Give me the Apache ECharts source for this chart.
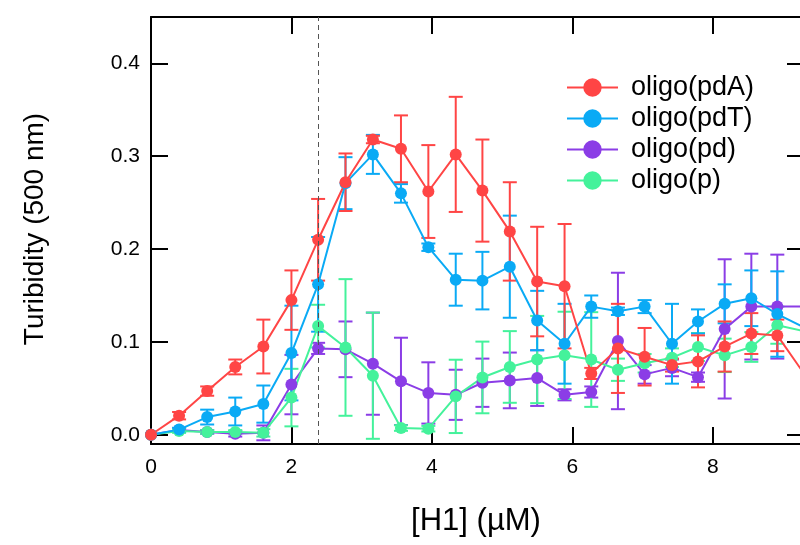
<!DOCTYPE html>
<html>
<head>
<meta charset="utf-8">
<script src="https://cdn.jsdelivr.net/npm/echarts@6/dist/echarts.min.js"></script>
<style>
html,body{margin:0;padding:0;background:#fff;}
#chart{width:800px;height:545px;}
</style>
</head>
<body>
<div id="chart"></div>
<script>
// H1 concentrations (µM)
var xValues = [0, 0.40, 0.80, 1.20, 1.60, 2.00, 2.38, 2.77, 3.16, 3.56, 3.95, 4.34, 4.72, 5.11, 5.50, 5.89, 6.27, 6.65, 7.03, 7.42, 7.79, 8.17, 8.55, 8.92, 9.40];

var pdA    = [0, 0.0205, 0.047, 0.073, 0.095, 0.145, 0.210, 0.272, 0.318, 0.308, 0.262, 0.302, 0.263, 0.219, 0.165, 0.160, 0.066, 0.093, 0.084, 0.075, 0.079, 0.095, 0.109, 0.107, 0.055];
var pdAErr = [0, 0.004, 0.005, 0.008, 0.029, 0.032, 0.044, 0.031, 0.004, 0.036, 0.050, 0.062, 0.055, 0.053, 0.059, 0.067, 0.006, 0.048, 0.031, 0.007, 0.028, 0.027, 0.022, 0.017, 0.010];

var pdT    = [0, 0.0055, 0.019, 0.025, 0.033, 0.088, 0.162, 0.271, 0.302, 0.260, 0.202, 0.167, 0.166, 0.181, 0.123, 0.098, 0.138, 0.133, 0.138, 0.098, 0.122, 0.141, 0.147, 0.130, 0.112];
var pdTErr = [0, 0.002, 0.008, 0.015, 0.020, 0.051, 0.051, 0.028, 0.021, 0.010, 0.004, 0.028, 0.031, 0.055, 0.032, 0.043, 0.012, 0.004, 0.007, 0.043, 0.013, 0.021, 0.030, 0.046, 0.010];

var pd     = [0, 0.005, 0.003, 0.001, 0.002, 0.054, 0.093, 0.092, 0.0765, 0.0575, 0.045, 0.043, 0.056, 0.0585, 0.061, 0.043, 0.046, 0.101, 0.065, 0.072, 0.062, 0.114, 0.138, 0.138, 0.138];
var pdErr  = [0, 0.002, 0.002, 0.003, 0.008, 0.032, 0.006, 0.030, 0.055, 0.047, 0.033, 0.027, 0.026, 0.030, 0.030, 0.006, 0.006, 0.0735, 0.010, 0.009, 0.005, 0.075, 0.057, 0.056, 0.050];

var p      = [0, 0.004, 0.003, 0.003, 0.002, 0.040, 0.117, 0.094, 0.0636, 0.0072, 0.0065, 0.0413, 0.0617, 0.073, 0.081, 0.0855, 0.081, 0.070, 0.077, 0.083, 0.0945, 0.0855, 0.0945, 0.118, 0.110];
var pErr   = [0, 0.002, 0.002, 0.002, 0.004, 0.031, 0.023, 0.0736, 0.068, 0.003, 0.003, 0.0395, 0.0386, 0.0386, 0.047, 0.047, 0.051, 0.012, 0.010, 0.010, 0.015, 0.018, 0.016, 0.020, 0.010];

var seriesNames = ['oligo(pdA)', 'oligo(pdT)', 'oligo(pd)', 'oligo(p)'];
var xTickValues = [0, 2, 4, 6, 8];
var yTickValues = [0.0, 0.1, 0.2, 0.3, 0.4];
var markerX = 2.38;

var colors = {
  'oligo(pdA)': '#ff4545',
  'oligo(pdT)': '#0aaaf5',
  'oligo(pd)':  '#8b3de6',
  'oligo(p)':   '#44f29b'
};

var FONT = '"Liberation Sans", Arial, Helvetica, sans-serif';

function pairs(vals) {
  return xValues.map(function (x, i) { return [x, vals[i]]; });
}
function errData(vals, errs) {
  var out = [];
  xValues.forEach(function (x, i) {
    if (errs[i] > 0) out.push([x, vals[i] - errs[i], vals[i] + errs[i]]);
  });
  return out;
}
function errSeries(name, vals, errs) {
  var c = colors[name];
  return {
    type: 'custom',
    name: name + ' err',
    xAxisIndex: 0, yAxisIndex: 0,
    clip: true,
    silent: true,
    data: errData(vals, errs),
    encode: { x: 0, y: [1, 2] },
    renderItem: function (params, api) {
      var x = api.value(0);
      var top = api.coord([x, api.value(2)]);
      var bot = api.coord([x, api.value(1)]);
      var hw = 7;
      var st = { stroke: c, lineWidth: 2 };
      return {
        type: 'group',
        children: [
          { type: 'line', shape: { x1: top[0], y1: top[1], x2: bot[0], y2: bot[1] }, style: st },
          { type: 'line', shape: { x1: top[0] - hw, y1: top[1], x2: top[0] + hw, y2: top[1] }, style: st },
          { type: 'line', shape: { x1: bot[0] - hw, y1: bot[1], x2: bot[0] + hw, y2: bot[1] }, style: st }
        ]
      };
    }
  };
}
function lineSeries(name, vals, extra) {
  var c = colors[name];
  var s = {
    type: 'line',
    name: name,
    xAxisIndex: 0, yAxisIndex: 0,
    data: pairs(vals),
    symbol: 'circle',
    symbolSize: 12,
    showAllSymbol: true,
    clip: true,
    itemStyle: { color: c },
    lineStyle: { color: c, width: 2 },
    emphasis: { disabled: true },
    animation: false
  };
  if (extra) for (var k in extra) s[k] = extra[k];
  return s;
}

var chart = echarts.init(document.getElementById('chart'), null, { renderer: 'canvas' });

function isTick(v, list) {
  for (var i = 0; i < list.length; i++) if (Math.abs(v - list[i]) < 1e-6) return true;
  return false;
}
function mkLine() { return { show: true, onZero: false, lineStyle: { color: '#000', width: 2 } }; }
function mkTick(vals) {
  var t = { show: true, inside: true, length: 17, lineStyle: { color: '#000', width: 2 } };
  if (vals) t.customValues = vals;
  return t;
}

var option = {
  animation: false,
  backgroundColor: '#fff',
  grid: { left: 151, right: -4, top: 17, bottom: 101, outerBoundsMode: 'none', containLabel: false },
  legend: {
    data: seriesNames,
    orient: 'vertical',
    left: 561,
    top: 69,
    itemWidth: 51,
    itemHeight: 23,
    itemGap: 4,
    textStyle: { fontFamily: FONT, fontSize: 27, lineHeight: 23, color: '#000', padding: [0, 0, 0, 8] },
    selectedMode: false
  },
  xAxis: [
    {
      type: 'value', position: 'bottom', min: 0, max: 9.3, interval: 2,
      axisLine: mkLine(), axisTick: mkTick(xTickValues), splitLine: { show: false },
      axisLabel: {
        show: true, margin: 13, color: '#000', fontFamily: FONT, fontSize: 21,
        customValues: xTickValues,
        formatter: function (v) { return isTick(v, xTickValues) ? String(Math.round(v)) : ''; }
      }
    },
    {
      type: 'value', position: 'top', min: 0, max: 9.3, interval: 2,
      axisLine: mkLine(), axisTick: mkTick(xTickValues), splitLine: { show: false },
      axisLabel: { show: false }
    }
  ],
  yAxis: [
    {
      type: 'value', position: 'left', min: -0.01, max: 0.45,
      axisLine: mkLine(), axisTick: mkTick(yTickValues), splitLine: { show: false },
      axisLabel: {
        show: true, margin: 11, color: '#000', fontFamily: FONT, fontSize: 21,
        customValues: yTickValues,
        formatter: function (v) { return isTick(v, yTickValues) ? v.toFixed(1) : ''; }
      }
    },
    {
      type: 'value', position: 'right', min: -0.01, max: 0.45,
      axisLine: mkLine(), axisTick: mkTick(yTickValues), splitLine: { show: false },
      axisLabel: { show: false }
    }
  ],
  graphic: [
    {
      type: 'text', x: 35, y: 229, rotation: Math.PI / 2,
      style: { text: 'Turibidity (500 nm)', fill: '#000', font: '28px ' + FONT, textAlign: 'center', textVerticalAlign: 'middle' }
    },
    {
      type: 'text', x: 476, y: 521,
      style: { text: '[H1] (µM)', fill: '#000', font: '31px ' + FONT, textAlign: 'center', textVerticalAlign: 'middle' }
    }
  ],
  series: [
    errSeries('oligo(pd)', pd, pdErr),
    lineSeries('oligo(pd)', pd),
    errSeries('oligo(p)', p, pErr),
    lineSeries('oligo(p)', p),
    errSeries('oligo(pdT)', pdT, pdTErr),
    lineSeries('oligo(pdT)', pdT),
    errSeries('oligo(pdA)', pdA, pdAErr),
    lineSeries('oligo(pdA)', pdA, {
      markLine: {
        silent: true,
        symbol: ['none', 'none'],
        label: { show: false },
        lineStyle: { type: [5, 4], color: '#555', width: 1 },
        data: [{ xAxis: markerX }]
      }
    })
  ]
};
chart.setOption(option);
</script>
</body>
</html>
